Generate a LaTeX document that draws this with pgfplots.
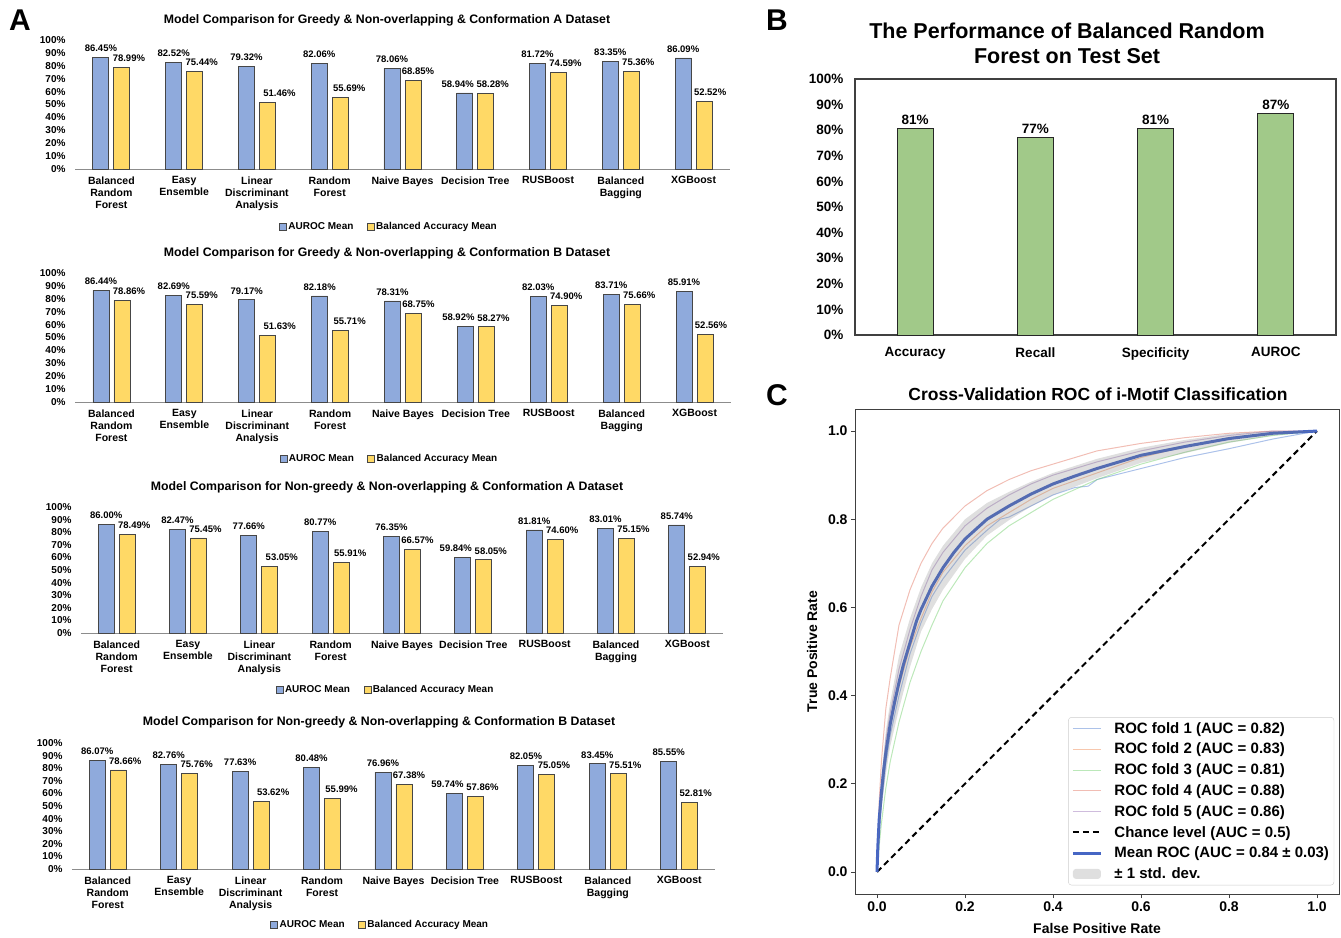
\documentclass[border=0pt]{standalone}
\usepackage{pgfplots}
\usepackage{pgfplotstable}
\pgfplotsset{compat=1.18}
\usepackage{fontspec}
\setmainfont{Liberation Sans}

\definecolor{barblue}{RGB}{143,170,220}
\definecolor{baryellow}{RGB}{255,217,102}
\definecolor{baredge}{RGB}{70,70,70}
\definecolor{bargreen}{RGB}{161,201,137}
\definecolor{foldA}{RGB}{72,120,208}
\definecolor{foldB}{RGB}{238,133,74}
\definecolor{foldC}{RGB}{106,204,100}
\definecolor{foldD}{RGB}{225,110,90}
\definecolor{foldE}{RGB}{149,108,180}
\definecolor{meanblue}{RGB}{70,102,196}

\pgfplotstableread{
au ba da db
86.45 78.99 0 7
82.52 75.44 0 7
79.32 51.46 0 12
82.06 55.69 0 9
78.06 68.85 0 5
58.94 58.28 -7 7
81.72 74.59 0 7
83.35 75.36 0 7
86.09 52.52 0 6
}\tAa
\pgfplotstableread{
au ba da db
86.44 78.86 0 7
82.69 75.59 0 7
79.17 51.63 0 12
82.18 55.71 0 9
78.31 68.75 0 5
58.92 58.27 -7 7
82.03 74.90 0 7
83.71 75.66 0 7
85.91 52.56 0 6
}\tAb
\pgfplotstableread{
au ba da db
86.00 78.49 0 7
82.47 75.45 0 7
77.66 53.05 0 12
80.77 55.91 0 9
76.35 66.57 0 5
59.84 58.05 -7 7
81.81 74.60 0 7
83.01 75.15 0 7
85.74 52.94 0 6
}\tAc
\pgfplotstableread{
au ba da db
86.07 78.66 0 7
82.76 75.76 0 7
77.63 53.62 0 12
80.48 55.99 0 9
76.96 67.38 0 5
59.74 57.86 -7 7
82.05 75.05 0 7
83.45 75.51 0 7
85.55 52.81 0 6
}\tAd
\pgfplotstableread{
x v
0 80.7
1 77.2
2 80.8
3 86.6
}\tB

\pgfplotsset{
  /pgf/number format/assume math mode=true,
  sqleg/.style={legend image code/.code={\draw[##1] (0pt,-3.5pt) rectangle (7pt,3.5pt);}},
  lineleg/.style={legend image code/.code={\draw[##1] (0pt,0pt) -- (28pt,0pt);}},
  bandleg/.style={legend image code/.code={\fill[##1] (0pt,-5pt) rectangle (28pt,5pt);}},
  Abar/.style={
    anchor=south west, scale only axis,
    ybar=5pt, bar width=16pt,
    xmin=-0.5, xmax=8.5, ymin=0, ymax=100,
    xtick={0,...,8},
    xticklabels={{Balanced\\Random\\Forest},{Easy\\Ensemble},{Linear\\Discriminant\\Analysis},{Random\\Forest},{Naive Bayes},{Decision Tree},{RUSBoost},{Balanced\\Bagging},{XGBoost}},
    ytick={0,10,...,100},
    yticklabel={\pgfmathprintnumber{\tick}\%},
    axis x line=bottom, axis y line=left,
    x axis line style={-, draw=black!45, line width=1pt},
    y axis line style={draw=none},
    major tick length=0pt,
    yticklabel style={font=\bfseries\fontsize{10}{11}\selectfont, xshift=-6pt},
    xticklabel style={align=center, font=\bfseries\fontsize{10.5}{12}\selectfont, yshift=-4pt},
    nodes near coords={\pgfmathprintnumber[fixed,fixed zerofill,precision=2]{\pgfplotspointmeta}\%},
    every node near coord/.append style={font=\bfseries\fontsize{9.5}{10}\selectfont, yshift=2pt},
    legend style={anchor=center, draw=none, fill=none, legend columns=2,
      font=\bfseries\fontsize{10}{11}\selectfont,
      /tikz/every even column/.append style={column sep=12pt}, nodes={inner sep=1.5pt}},
    clip=false,
  },
  Ablue/.style={fill=barblue, draw=baredge, line width=0.8pt, sqleg,
    visualization depends on={\thisrow{da}\as\dxa},
    every node near coord/.append style={xshift=\dxa pt}},
  Ayel/.style={fill=baryellow, draw=baredge, line width=0.8pt, sqleg,
    visualization depends on={\thisrow{db}\as\dxb},
    every node near coord/.append style={xshift=\dxb pt}},
}

\begin{document}
\begin{tikzpicture}
\path[use as bounding box] (0pt,0pt) rectangle (1341pt,-937pt);

% ---------- A1
\begin{axis}[Abar, at={(75pt,-169pt)}, width=655pt, height=129pt,
  legend style={at={(0.479,-0.45)}}]
\addplot[Ablue] table[x expr=\coordindex, y=au]{\tAa};
\addplot[Ayel] table[x expr=\coordindex, y=ba]{\tAa};
\legend{AUROC Mean, Balanced Accuracy Mean}
\end{axis}
% ---------- A2
\begin{axis}[Abar, at={(75pt,-402pt)}, width=656pt, height=129pt,
  legend style={at={(0.479,-0.442)}}]
\addplot[Ablue] table[x expr=\coordindex, y=au]{\tAb};
\addplot[Ayel] table[x expr=\coordindex, y=ba]{\tAb};
\legend{AUROC Mean, Balanced Accuracy Mean}
\end{axis}
% ---------- A3
\begin{axis}[Abar, at={(81pt,-633pt)}, width=642pt, height=126pt,
  legend style={at={(0.474,-0.452)}}]
\addplot[Ablue] table[x expr=\coordindex, y=au]{\tAc};
\addplot[Ayel] table[x expr=\coordindex, y=ba]{\tAc};
\legend{AUROC Mean, Balanced Accuracy Mean}
\end{axis}
% ---------- A4
\begin{axis}[Abar, at={(72pt,-869pt)}, width=643pt, height=126pt,
  legend style={at={(0.479,-0.444)}}]
\addplot[Ablue] table[x expr=\coordindex, y=au]{\tAd};
\addplot[Ayel] table[x expr=\coordindex, y=ba]{\tAd};
\legend{AUROC Mean, Balanced Accuracy Mean}
\end{axis}

% ---------- B
\begin{axis}[anchor=south west, at={(855pt,-335pt)}, scale only axis,
  width=481pt, height=256pt, ybar, bar width=36pt,
  xmin=-0.5, xmax=3.5, ymin=0, ymax=100,
  xtick={0,1,2,3}, xticklabels={Accuracy,Recall,Specificity,AUROC},
  ytick={0,10,...,100}, yticklabel={\pgfmathprintnumber{\tick}\%},
  axis line style={draw=black!75, line width=1.2pt},
  major tick length=0pt,
  tick label style={font=\bfseries\fontsize{13.5}{15}\selectfont},
  yticklabel style={xshift=-8pt}, xticklabel style={yshift=-9pt},
  nodes near coords={\pgfmathprintnumber[fixed,precision=0]{\pgfplotspointmeta}\%},
  every node near coord/.append style={font=\bfseries\fontsize{13.5}{15}\selectfont, yshift=0pt},
  clip=false]
\addplot[fill=bargreen, draw=black!85, line width=1pt] table[x=x,y=v]{\tB};
\end{axis}

% ---------- C
\begin{axis}[anchor=south west, at={(855pt,-894pt)}, scale only axis,
  width=484pt, height=485pt,
  xmin=-0.05, xmax=1.05, ymin=-0.05, ymax=1.05,
  xtick={0,0.2,0.4,0.6,0.8,1}, ytick={0,0.2,0.4,0.6,0.8,1},
  xtick pos=bottom, ytick pos=left, tick align=outside, major tick length=4pt,
  tick style={black!75, line width=0.8pt},
  axis line style={black!75, line width=1pt},
  tick label style={font=\bfseries\fontsize{14}{16}\selectfont},
  xticklabel style={/pgf/number format/fixed, /pgf/number format/fixed zerofill, /pgf/number format/precision=1},
  yticklabel style={/pgf/number format/fixed, /pgf/number format/fixed zerofill, /pgf/number format/precision=1},
  xlabel={False Positive Rate}, ylabel={True Positive Rate},
  label style={font=\bfseries\fontsize{14}{16}\selectfont},
  xlabel style={yshift=-5pt}, ylabel style={yshift=4pt},
  legend cell align=left,
  legend style={at={(0.99,0.018)}, anchor=south east, draw=black!20, rounded corners=3pt,
    fill=white, font=\bfseries\fontsize{15}{17}\selectfont, row sep=4.4pt,
    inner sep=3pt,
    /tikz/every odd column/.append style={column sep=10pt}}]
\addplot[foldA, draw opacity=0.45, line width=1pt, lineleg] coordinates {
(0,0) (0.005,0.09) (0.01,0.15) (0.02,0.245) (0.03,0.31) (0.05,0.40) (0.075,0.495) (0.1,0.565) (0.125,0.625) (0.15,0.665) (0.2,0.73) (0.25,0.775) (0.28,0.80) (0.3,0.805) (0.35,0.83) (0.4,0.855) (0.45,0.872) (0.48,0.875) (0.5,0.89) (0.6,0.915) (0.7,0.94) (0.8,0.96) (0.9,0.982) (1,1)};
\addlegendentry{ROC fold 1 (AUC = 0.82)}
\addplot[foldB, draw opacity=0.45, line width=1pt, lineleg] coordinates {
(0,0) (0.005,0.11) (0.01,0.18) (0.02,0.27) (0.03,0.33) (0.05,0.42) (0.075,0.51) (0.1,0.575) (0.125,0.635) (0.15,0.68) (0.2,0.74) (0.25,0.785) (0.3,0.815) (0.35,0.845) (0.4,0.87) (0.5,0.905) (0.6,0.94) (0.7,0.965) (0.8,0.985) (0.9,0.995) (1,1)};
\addlegendentry{ROC fold 2 (AUC = 0.83)}
\addplot[foldC, draw opacity=0.45, line width=1pt, lineleg] coordinates {
(0,0) (0.005,0.06) (0.01,0.11) (0.02,0.19) (0.03,0.25) (0.05,0.34) (0.075,0.43) (0.1,0.50) (0.125,0.56) (0.15,0.615) (0.2,0.69) (0.25,0.745) (0.3,0.785) (0.35,0.815) (0.4,0.845) (0.5,0.89) (0.6,0.925) (0.7,0.952) (0.8,0.975) (0.9,0.99) (1,1)};
\addlegendentry{ROC fold 3 (AUC = 0.81)}
\addplot[foldD, draw opacity=0.45, line width=1pt, lineleg] coordinates {
(0,0) (0.005,0.16) (0.01,0.25) (0.02,0.37) (0.03,0.44) (0.05,0.56) (0.075,0.64) (0.1,0.70) (0.125,0.745) (0.15,0.78) (0.2,0.83) (0.25,0.865) (0.3,0.89) (0.35,0.91) (0.4,0.925) (0.5,0.955) (0.6,0.972) (0.7,0.985) (0.8,0.995) (0.9,1) (1,1)};
\addlegendentry{ROC fold 4 (AUC = 0.88)}
\addplot[foldE, draw opacity=0.45, line width=1pt, lineleg] coordinates {
(0,0) (0.005,0.12) (0.01,0.19) (0.02,0.30) (0.03,0.36) (0.05,0.46) (0.075,0.55) (0.1,0.625) (0.125,0.685) (0.15,0.725) (0.2,0.785) (0.25,0.825) (0.3,0.855) (0.35,0.88) (0.4,0.90) (0.5,0.93) (0.6,0.955) (0.7,0.975) (0.8,0.99) (0.9,1) (1,1)};
\addlegendentry{ROC fold 5 (AUC = 0.86)}
\addplot[black, line width=2pt, dash pattern=on 6pt off 4pt, lineleg] coordinates {(0,0) (1,1)};
\addlegendentry{Chance level (AUC = 0.5)}
\addplot[meanblue, line width=3pt, lineleg] coordinates {
(0,0) (0.002,0.06) (0.005,0.12) (0.01,0.18) (0.015,0.23) (0.02,0.27) (0.03,0.335) (0.04,0.385) (0.05,0.43) (0.06,0.47) (0.075,0.52) (0.09,0.57) (0.1,0.595) (0.125,0.648) (0.15,0.69) (0.175,0.725) (0.2,0.755) (0.25,0.80) (0.3,0.83) (0.35,0.857) (0.4,0.88) (0.45,0.898) (0.5,0.915) (0.6,0.945) (0.7,0.965) (0.8,0.983) (0.9,0.995) (1,1)};
\addlegendentry{Mean ROC (AUC = 0.84 ± 0.03)}
\addplot[draw=none, fill=gray, fill opacity=0.25, bandleg] coordinates {
(0,0) (0.005,0.14) (0.01,0.215) (0.02,0.32) (0.03,0.385) (0.05,0.49) (0.075,0.575) (0.1,0.645) (0.125,0.70) (0.15,0.74) (0.2,0.80) (0.25,0.837) (0.3,0.862) (0.35,0.885) (0.4,0.905) (0.5,0.937) (0.6,0.962) (0.7,0.98) (0.8,0.994) (0.9,1) (1,1)
(1,1) (0.9,0.99) (0.8,0.973) (0.7,0.95) (0.6,0.928) (0.5,0.893) (0.4,0.855) (0.35,0.829) (0.3,0.798) (0.25,0.763) (0.2,0.71) (0.15,0.64) (0.125,0.596) (0.1,0.545) (0.075,0.465) (0.05,0.37) (0.03,0.285) (0.02,0.22) (0.01,0.145) (0.005,0.10) (0,0)};
\addlegendentry{± 1 std. dev.}
\end{axis}

% ---------- titles and panel letters
\node[font=\bfseries\fontsize{30}{32}\selectfont] at (20pt,-20pt) {A};
\node[font=\bfseries\fontsize{30}{32}\selectfont] at (777pt,-20pt) {B};
\node[font=\bfseries\fontsize{30}{32}\selectfont] at (777pt,-395pt) {C};
\node[font=\bfseries\fontsize{12.3}{14}\selectfont] at (387pt,-20pt) {Model Comparison for Greedy \& Non-overlapping \& Conformation A Dataset};
\node[font=\bfseries\fontsize{12.3}{14}\selectfont] at (387pt,-253pt) {Model Comparison for Greedy \& Non-overlapping \& Conformation B Dataset};
\node[font=\bfseries\fontsize{12.3}{14}\selectfont] at (387pt,-487pt) {Model Comparison for Non-greedy \& Non-overlapping \& Conformation A Dataset};
\node[font=\bfseries\fontsize{12.3}{14}\selectfont] at (379pt,-722pt) {Model Comparison for Non-greedy \& Non-overlapping \& Conformation B Dataset};
\node[font=\bfseries\fontsize{21.5}{25}\selectfont, align=center] at (1067pt,-43pt) {The Performance of Balanced Random\\Forest on Test Set};
\node[font=\bfseries\fontsize{17.5}{20}\selectfont] at (1098pt,-394pt) {Cross-Validation ROC of i-Motif Classification};
\end{tikzpicture}
\end{document}
